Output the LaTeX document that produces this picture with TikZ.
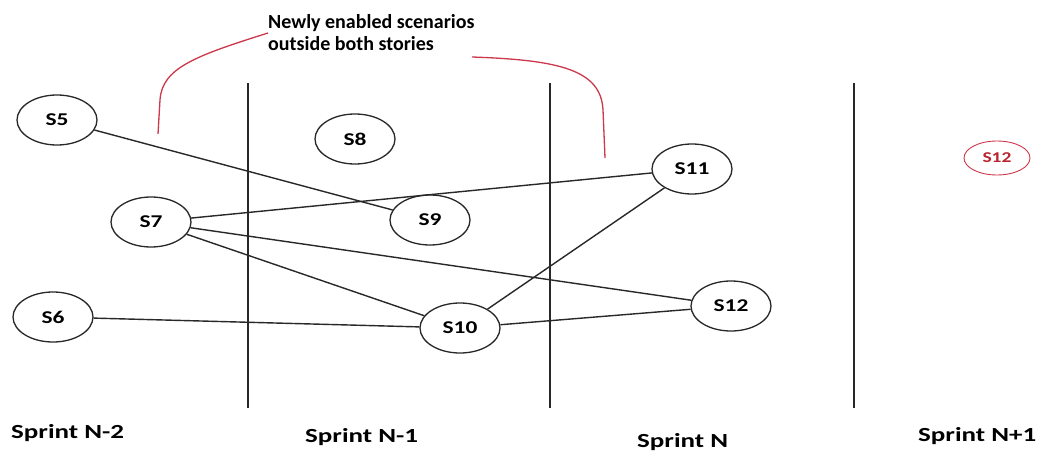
\documentclass[tikz,border=0pt]{standalone}
\usepackage{fontspec}
\setmainfont{Carlito}
\usetikzlibrary{shapes.geometric}
\definecolor{inkgray}{RGB}{40,40,40}
\definecolor{bracketred}{RGB}{205,55,75}
\definecolor{redtext}{RGB}{185,35,45}
\newcommand{\wide}[1]{\scalebox{1.3}[1]{#1}}
\tikzset{
  scen/.style={ellipse,draw=inkgray,line width=1.3pt,minimum width=80pt,minimum height=50pt,inner sep=0pt,font=\fontsize{18}{20}\selectfont\bfseries},
  link/.style={draw=inkgray,line width=1.4pt},
  divider/.style={draw=inkgray,line width=1.6pt},
  sprint/.style={font=\fontsize{20}{22}\selectfont\bfseries,text=black,inner sep=0pt},
  bracket/.style={draw=bracketred,line width=1.3pt}
}
\begin{document}
\begin{tikzpicture}[x=1pt,y=-1pt]
\useasboundingbox (0,0) rectangle (1057,452);
% dividers
\coordinate (d1t) at (248,83); \coordinate (d1b) at (248,408);
\coordinate (d2t) at (550,83); \coordinate (d2b) at (550,408);
\coordinate (d3t) at (854,83); \coordinate (d3b) at (854,408);
\draw[divider] (d1t) -- (d1b);
\draw[divider] (d2t) -- (d2b);
\draw[divider] (d3t) -- (d3b);
% scenarios
\node[scen] (s5) at (57,120) {\wide{S5}};
\node[scen] (s8) at (355,139) {\wide{S8}};
\node[scen] (s7) at (151,222) {\wide{S7}};
\node[scen] (s9) at (430,220) {\wide{S9}};
\node[scen] (s6) at (53,317) {\wide{S6}};
\node[scen] (s10) at (460,328) {\wide{S10}};
\node[scen] (s11) at (692,169) {\wide{S11}};
\node[scen] (s12) at (731,306) {\wide{S12}};
\node[scen,draw=bracketred,text=redtext,line width=0.9pt,minimum width=66pt,minimum height=34pt,font=\fontsize{15}{17}\selectfont\bfseries] (s12r) at (997,158) {\wide{S12}};
% links
\draw[link] (s5) -- (s9);
\draw[link] (s7) -- (s11);
\draw[link] (s7) -- (s12);
\draw[link] (s7) -- (s10);
\draw[link] (s6) -- (s10);
\draw[link] (s10) -- (s11);
\draw[link] (s10) -- (s12);
% annotation
\node[font=\fontsize{20}{22}\selectfont\bfseries,align=left,anchor=west,inner sep=0pt] (note) at (268,33) {Newly enabled scenarios\\outside both stories};
\coordinate (bl) at (158,134);
\coordinate (br) at (605,158);
\draw[bracket] (bl) -- (160,100) .. controls (162,68) and (195,56) .. (note.west);
\draw[bracket] (472,57) .. controls (560,60) and (601,70) .. (603,110) -- (br);
% sprint labels
\node[sprint,anchor=west] (sp1) at (11,433) {\scalebox{1.35}[1]{Sprint N-2}};
\node[sprint,anchor=west] (sp2) at (305,437) {\scalebox{1.35}[1]{Sprint N-1}};
\node[sprint,anchor=west] (sp3) at (637,442) {\scalebox{1.35}[1]{Sprint N}};
\node[sprint,anchor=west] (sp4) at (918,436) {\scalebox{1.35}[1]{Sprint N+1}};
\end{tikzpicture}
\end{document}
